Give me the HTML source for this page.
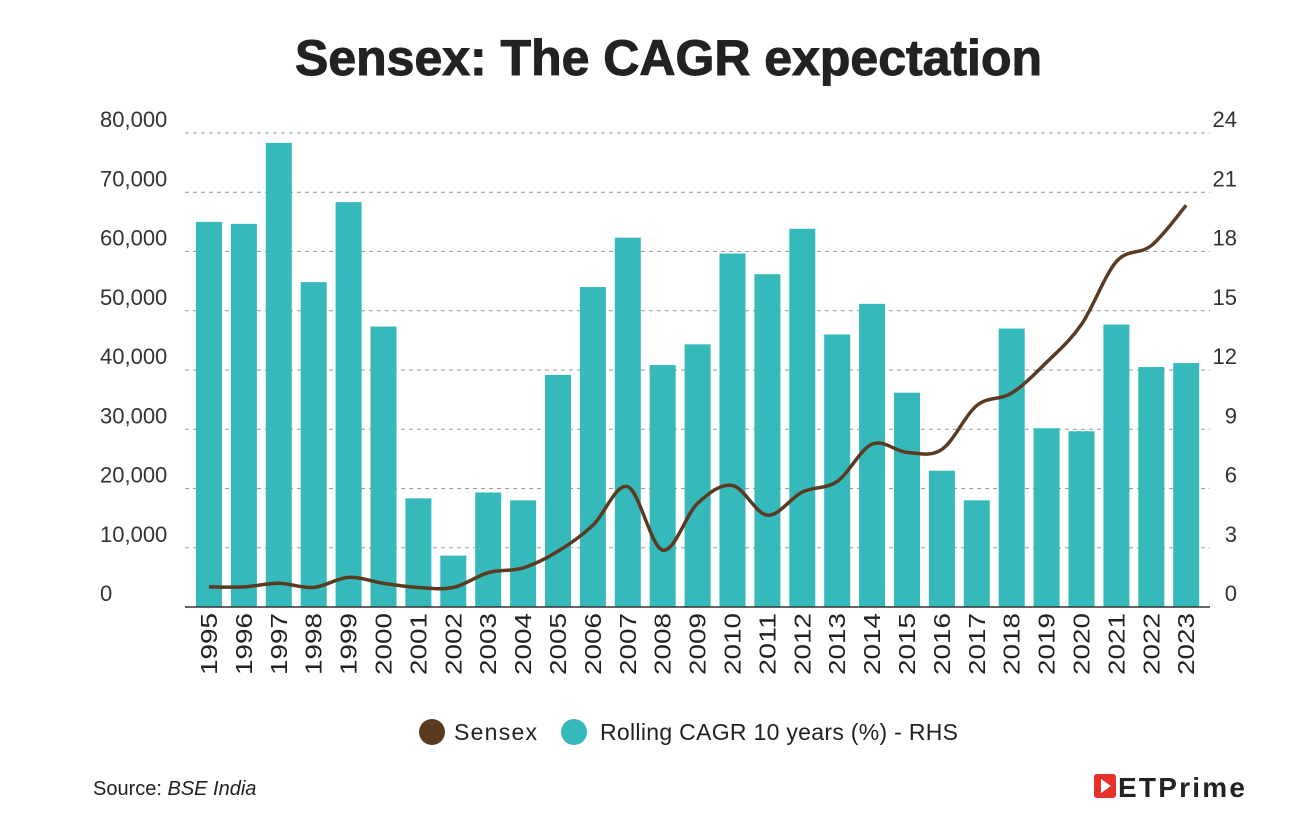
<!DOCTYPE html>
<html><head><meta charset="utf-8"><style>
body{margin:0;background:#fff;width:1314px;height:826px;overflow:hidden;font-family:"Liberation Sans",sans-serif}
</style></head><body>
<svg id="chart" width="1314" height="826" xmlns="http://www.w3.org/2000/svg">
<text x="295" y="75" textLength="747" lengthAdjust="spacingAndGlyphs" font-family="Liberation Sans, sans-serif" font-weight="bold" font-size="50" fill="#222" stroke="#222" stroke-width="1">Sensex: The CAGR expectation</text>
<g id="grid"></g><g id="bars"></g><g id="line"></g><g id="axes"></g>
<g>
<circle cx="432" cy="732" r="13" fill="#5a3a20"/>
<text x="454" y="740" textLength="83" font-size="23" fill="#222">Sensex</text>
<circle cx="574" cy="732" r="13" fill="#36b9bb"/>
<text x="600" y="740" textLength="358" font-size="23" fill="#222">Rolling CAGR 10 years (%) - RHS</text>
</g>
<text x="93" y="795" font-size="20" fill="#222">Source: <tspan font-style="italic">BSE India</tspan></text>
<g>
<rect x="1094" y="774" width="22" height="24" rx="3" fill="#e8312a"/>
<path d="M1101 779 L1111 786 L1101 793 Z" fill="#fff"/>
<text x="1118" y="797" font-size="28" font-weight="bold" fill="#222" textLength="127">ETPrime</text>
</g>
</svg>
<script>
const years=[1995,1996,1997,1998,1999,2000,2001,2002,2003,2004,2005,2006,2007,2008,2009,2010,2011,2012,2013,2014,2015,2016,2017,2018,2019,2020,2021,2022,2023];
const cagr=[19.5,19.4,23.5,16.45,20.5,14.2,5.5,2.6,5.8,5.4,11.75,16.2,18.7,12.25,13.3,17.9,16.85,19.15,13.8,15.35,10.85,6.9,5.4,14.1,9.05,8.9,14.3,12.15,12.35];
const sensex=[3400,3400,4000,3300,5000,4000,3300,3300,5800,6600,9400,13800,20300,9600,17500,20500,15500,19400,21200,27500,26100,26600,34000,36100,41300,47700,58300,61000,67800];
const leftTicks=[0,10000,20000,30000,40000,50000,60000,70000,80000];
const rightTicks=[0,3,6,9,12,15,18,21,24];
const NS="http://www.w3.org/2000/svg";
const y0=607,yTop=133,x0=209,dx=34.9;
const yL=v=>y0-(v/80000)*(y0-yTop);
const yR=v=>y0-(v/24)*(y0-yTop);
const xp=i=>x0+i*dx;
function mk(t,a,p){const e=document.createElementNS(NS,t);for(const k in a)e.setAttribute(k,a[k]);p.appendChild(e);return e;}
const G=document.getElementById('grid'),B=document.getElementById('bars'),L=document.getElementById('line'),A=document.getElementById('axes');
leftTicks.forEach((v,i)=>{
 if(v>0){const g=mk('line',{x1:185,x2:1210,y1:yL(v),y2:yL(v),stroke:'#999','stroke-dasharray':'4,4','stroke-width':1},G);
 
 }
 const t=mk('text',{x:100,y:yL(v)-6,'font-size':22,fill:'#333'},A);t.textContent=v.toLocaleString('en-US');
 
 
 const r=mk('text',{x:1237,y:yR(rightTicks[i])-6,'font-size':22,fill:'#333','text-anchor':'end'},A);r.textContent=rightTicks[i];
 
 
});
cagr.forEach((v,i)=>{
 const r=mk('rect',{x:xp(i)-13,y:yR(v),width:26,height:y0-yR(v),fill:'#36b9bb'},B);
 
 
 const t=mk('text',{transform:`translate(${xp(i)+8},${y0+6}) rotate(-90)`,'text-anchor':'end','font-size':23,fill:'#222',textLength:62,lengthAdjust:'spacingAndGlyphs'},A);t.textContent=years[i];
 
 
});
const bl=mk('line',{x1:185,x2:1210,y1:y0,y2:y0,stroke:'#333','stroke-width':1.5},A);


const pts=sensex.map((v,i)=>[xp(i),yL(v)]);
let d=`M${pts[0][0]},${pts[0][1]}`;
for(let i=0;i<pts.length-1;i++){const p0=pts[Math.max(0,i-1)],p1=pts[i],p2=pts[i+1],p3=pts[Math.min(pts.length-1,i+2)];
 d+=` C${p1[0]+(p2[0]-p0[0])/6},${p1[1]+(p2[1]-p0[1])/6} ${p2[0]-(p3[0]-p1[0])/6},${p2[1]-(p3[1]-p1[1])/6} ${p2[0]},${p2[1]}`;}
const ln=mk('path',{d:d,fill:'none',stroke:'#5a3a20','stroke-width':3.5},L);


</script>
</body></html>
